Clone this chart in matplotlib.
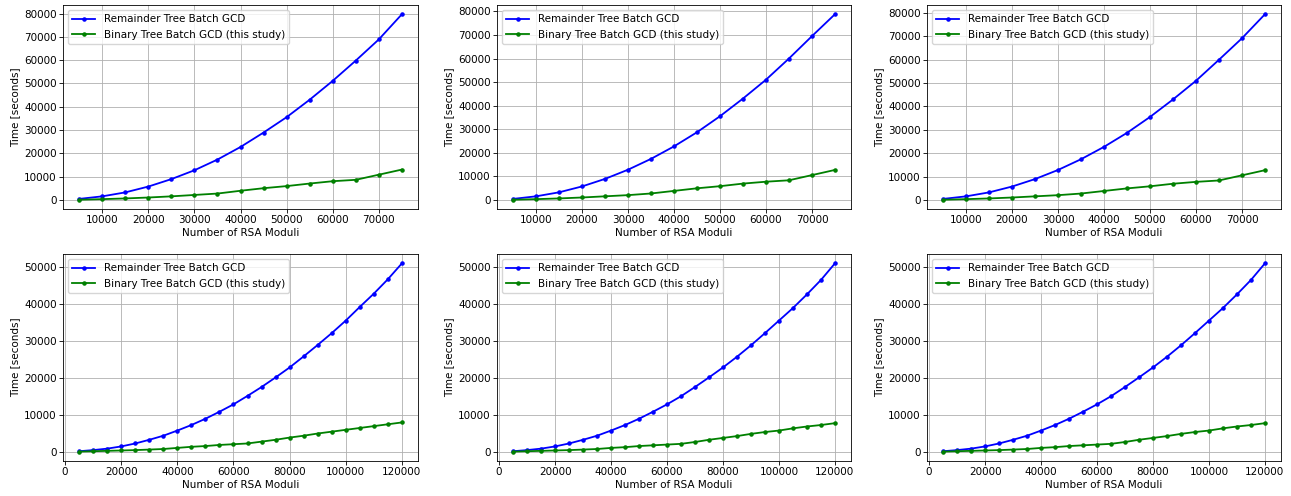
import matplotlib

matplotlib.use("Agg")
import matplotlib.pyplot as plt

plt.rcParams["font.family"] = "DejaVu Sans"
plt.rcParams["font.size"] = 7.5
plt.rcParams["axes.linewidth"] = 0.6
plt.rcParams["grid.linewidth"] = 0.6
plt.rcParams["xtick.major.width"] = 0.6
plt.rcParams["ytick.major.width"] = 0.6
plt.rcParams["xtick.major.size"] = 2.6
plt.rcParams["ytick.major.size"] = 2.6
plt.rcParams["legend.fontsize"] = 7.5

# top row: 5000 .. 75000 moduli
n_small = [5000, 10000, 15000, 20000, 25000, 30000, 35000, 40000,
           45000, 50000, 55000, 60000, 65000, 70000, 75000]

rem_a = [400, 1500, 3200, 5700, 8900, 12700, 17300, 22700,
         28900, 35500, 43000, 51100, 59800, 68900, 79700]
bin_a = [50, 300, 600, 1000, 1500, 2100, 2700, 3900,
         5000, 5900, 7000, 8000, 8600, 10800, 13000]

rem_b = [400, 1500, 3200, 5700, 8900, 12800, 17400, 22700,
         28700, 35500, 43000, 51000, 60000, 69500, 78800]
bin_b = [50, 300, 600, 1000, 1500, 2000, 2700, 3800,
         4900, 5800, 6900, 7700, 8300, 10500, 12700]

rem_c = [400, 1500, 3200, 5700, 8900, 12800, 17400, 22700,
         28700, 35500, 43000, 51000, 60000, 69200, 79500]
bin_c = [50, 300, 600, 1000, 1500, 2000, 2700, 3800,
         4900, 5800, 6900, 7700, 8300, 10500, 12700]

# bottom row: 5000 .. 120000 moduli
n_large = [5000, 10000, 15000, 20000, 25000, 30000, 35000, 40000,
           45000, 50000, 55000, 60000, 65000, 70000, 75000, 80000,
           85000, 90000, 95000, 100000, 105000, 110000, 115000, 120000]

rem_d = [100, 400, 800, 1400, 2200, 3200, 4300, 5700,
         7200, 8900, 10800, 12800, 15100, 17500, 20100, 22800,
         25800, 28900, 32100, 35500, 39200, 42800, 46700, 51000]
bin_d = [0, 100, 200, 300, 400, 550, 700, 1000,
         1300, 1500, 1800, 2000, 2200, 2700, 3200, 3800,
         4300, 4900, 5400, 5900, 6400, 6900, 7400, 7900]

rem_e = [100, 400, 800, 1400, 2200, 3200, 4300, 5700,
         7200, 8900, 10800, 12800, 15000, 17500, 20100, 22800,
         25700, 28800, 32100, 35500, 38900, 42600, 46500, 51000]
bin_e = [0, 100, 200, 300, 400, 550, 700, 1000,
         1200, 1500, 1700, 1900, 2100, 2600, 3200, 3700,
         4200, 4800, 5300, 5700, 6300, 6800, 7200, 7700]

rem_f = rem_e
bin_f = bin_e

panels = [
    (n_small, rem_a, bin_a), (n_small, rem_b, bin_b), (n_small, rem_c, bin_c),
    (n_large, rem_d, bin_d), (n_large, rem_e, bin_e), (n_large, rem_f, bin_f),
]

W, H = 1291, 496
fig = plt.figure(figsize=(W / 100, H / 100), dpi=100)

lefts = [63, 497, 927]
widths = [355, 354, 354]
tops = [5, 254]
heights = [204, 207]

for i, (x, rem, bnr) in enumerate(panels):
    r, c = divmod(i, 3)
    ax = fig.add_axes([lefts[c] / W, 1 - (tops[r] + heights[r]) / H,
                       widths[c] / W, heights[r] / H])
    ax.plot(x, rem, marker=".", color="blue", linewidth=1.3, markersize=4.5,
            label="Remainder Tree Batch GCD")
    ax.plot(x, bnr, marker=".", color="green", linewidth=1.3, markersize=4.5,
            label="Binary Tree Batch GCD (this study)")
    ax.set_xlabel("Number of RSA Moduli", labelpad=2)
    ax.set_ylabel("Time [seconds]", labelpad=3)
    ax.tick_params(pad=2)
    ax.grid(True)
    ax.legend(loc="upper left", handlelength=2.2)

plt.savefig("out.png", dpi=100)
